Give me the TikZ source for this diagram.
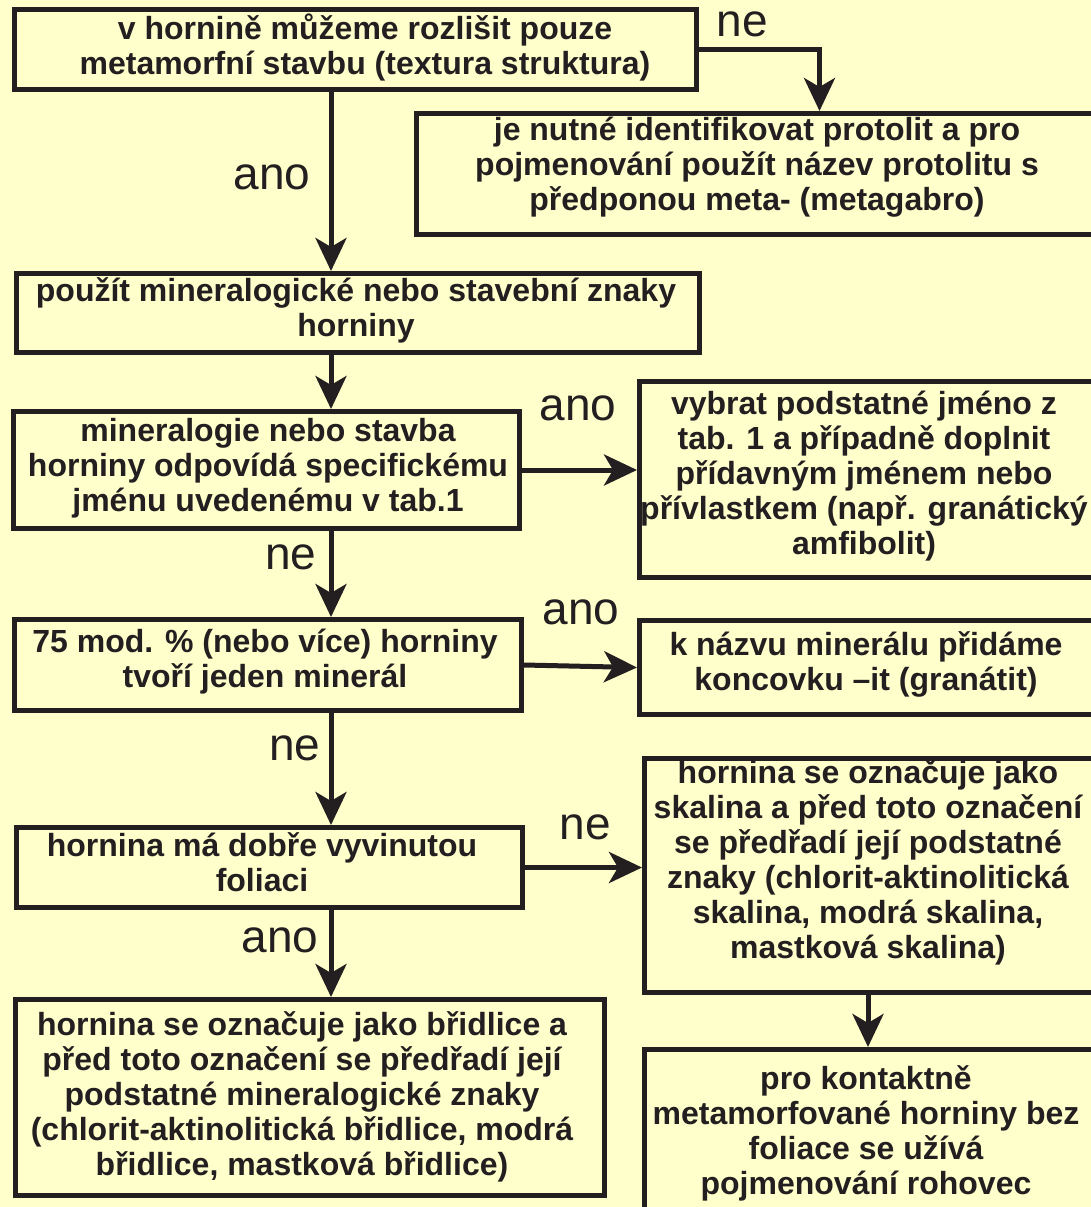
\documentclass[tikz,border=0pt]{standalone}
\usepackage{fontspec}
\setmainfont{Liberation Sans}
\usetikzlibrary{arrows.meta,calc}
\definecolor{bg}{HTML}{FFFFCC}
\definecolor{ink}{HTML}{231F20}
\newcommand{\mybox}[5]{\node[box, minimum width={#4-#2}, minimum height={#5-#3}] (#1) at (#2,#3) {};}
\begin{document}
\begin{tikzpicture}[x=1pt,y=-1pt,
  box/.style={draw=ink, line width=5pt, fill=bg, inner sep=0pt, anchor=north west},
  txt/.style={align=center, text=ink, font=\fontsize{32}{35}\selectfont\bfseries, inner sep=0pt},
  lbl/.style={text=ink, font=\fontsize{46}{50}\selectfont, inner sep=0pt},
  arr/.style={draw=ink, line width=5pt, -{Stealth[length=33pt,width=31pt,inset=9pt]}}]
\useasboundingbox (0,0) rectangle (1091,1207);
\clip (0,0) rectangle (1091,1207);
\fill[bg] (0,0) rectangle (1091,1207);
% boxes
\mybox{A}{12}{7}{694}{87}
\mybox{B}{414}{111}{1100}{232}
\mybox{C}{14}{271}{697}{350}
\mybox{D}{11}{409}{517}{526}
\mybox{E}{637}{379}{1100}{575}
\mybox{F}{12}{617}{519}{708}
\mybox{G}{637}{618}{1100}{712}
\mybox{H}{14}{825}{520}{905}
\mybox{I}{642}{756}{1100}{990}
\mybox{J}{13}{997}{602}{1193}
\mybox{K}{642}{1047}{1100}{1260}
% texts
\node[txt] (tA) at (365,47) {v hornině můžeme rozlišit pouze\\metamorfní stavbu (textura struktura)};
\node[txt] (tB) at (757,167) {je nutné identifikovat protolit a pro\\pojmenování použít název protolitu s\\předponou meta- (metagabro)};
\node[txt] (tC) at (356,310) {použít mineralogické nebo stavební znaky\\horniny};
\node[txt] (tD) at (268,468) {mineralogie nebo stavba\\horniny odpovídá specifickému\\jménu uvedenému v tab.1};
\node[txt] (tE) at (864,476) {vybrat podstatné jméno z\\tab. 1 a případně doplnit\\přídavným jménem nebo\\přívlastkem (např. granátický\\amfibolit)};
\node[txt] (tF) at (265,662) {75 mod. \% (nebo více) horniny\\tvoří jeden minerál};
\node[txt] (tG) at (866,664) {k názvu minerálu přidáme\\koncovku –it (granátit)};
\node[txt] (tH) at (262,862) {hornina má dobře vyvinutou\\foliaci};
\node[txt] (tI) at (868,862) {hornina se označuje jako\\skalina a před toto označení\\se předřadí její podstatné\\znaky (chlorit-aktinolitická\\skalina, modrá skalina,\\mastková skalina)};
\node[txt] (tJ) at (302,1097) {hornina se označuje jako břidlice a\\před toto označení se předřadí její\\podstatné mineralogické znaky\\(chlorit-aktinolitická břidlice, modrá\\břidlice, mastková břidlice)};
\node[txt] (tK) at (866,1133) {pro kontaktně\\metamorfované horniny bez\\foliace se užívá\\pojmenování rohovec};
% connectors
\coordinate (colL) at (331,0);
\coordinate (colR) at (868,0);
\draw[arr] (A.south -| colL) -- (C.north -| colL);
\draw[arr] (A.east) -| ([xshift=60pt]B.north);
\draw[arr] (C.south -| colL) -- (D.north -| colL);
\draw[arr] (D.east) -- (D.east -| E.west);
\draw[arr] (D.south -| colL) -- (F.north -| colL);
\draw[arr] (F.east) -- (G.west);
\draw[arr] (F.south -| colL) -- (H.north -| colL);
\draw[arr] (H.east) -- (H.east -| I.west);
\draw[arr] (H.south -| colL) -- (J.north -| colL);
\draw[arr] (I.south -| colR) -- (K.north -| colR);
% labels
\node[lbl] (l1) at (742,24) {ne};
\node[lbl] (l2) at (272,177) {ano};
\node[lbl] (l3) at (578,408) {ano};
\node[lbl] (l4) at (291,557) {ne};
\node[lbl] (l5) at (581,612) {ano};
\node[lbl] (l6) at (295,748) {ne};
\node[lbl] (l7) at (585,827) {ne};
\node[lbl] (l8) at (280,940) {ano};
\end{tikzpicture}
\end{document}
